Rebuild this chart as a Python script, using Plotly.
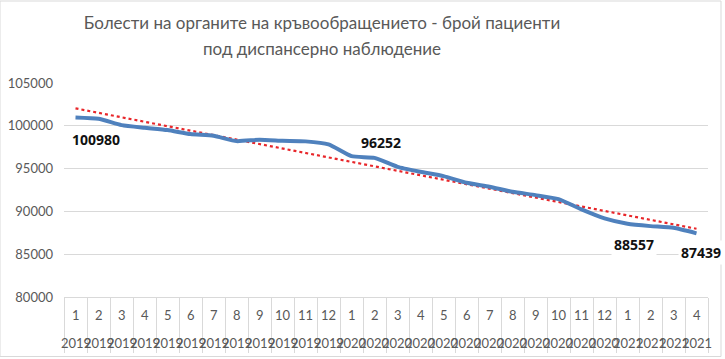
import numpy as np
import plotly.graph_objects as go

months = [1, 2, 3, 4, 5, 6, 7, 8, 9, 10, 11, 12,
          1, 2, 3, 4, 5, 6, 7, 8, 9, 10, 11, 12,
          1, 2, 3, 4]
years = [2019] * 12 + [2020] * 12 + [2021] * 4
values = [100980, 100818, 100080, 99770, 99500, 99030, 98830, 98210, 98370, 98250,
          98180, 97830, 96450, 96252, 95210, 94630, 94120, 93340, 92880, 92290,
          91900, 91440, 90230, 89180, 88557, 88280, 88080, 87439]
labelled = {0: (20, -22), 13: (6, 15), 24: (6, -21), 27: (4, -19)}

title_line1 = "Болести на органите на кръвообращението - брой пациенти"
title_line2 = "под диспансерно наблюдение"
y_ticks = [80000, 85000, 90000, 95000, 100000, 105000]

cats = [f"{m}-{y}" for m, y in zip(months, years)]
idx = np.arange(len(values))
slope, intercept = np.polyfit(idx, values, 1)
trend = slope * idx + intercept

fig = go.Figure()
fig.add_trace(go.Scatter(x=cats, y=trend, mode="lines",
                         line=dict(color="#E8262A", width=2.2, dash="dot"),
                         hoverinfo="skip", showlegend=False))
fig.add_trace(go.Scatter(x=cats, y=values, mode="lines",
                         line=dict(color="#4F81BD", width=4, shape="spline", smoothing=0.5),
                         showlegend=False))

annotations = []
for i, (dx, dy) in labelled.items():
    annotations.append(dict(x=cats[i], y=values[i], xref="x", yref="y",
                            text=f"<b>{values[i]}</b>", showarrow=False,
                            xshift=dx, yshift=dy, bgcolor="white", borderpad=2,
                            font=dict(family="Open Sans", size=14, color="#111111")))
for c, m, y in zip(cats, months, years):
    annotations.append(dict(x=c, y=0, xref="x", yref="paper", text=str(m),
                            showarrow=False, yanchor="middle", yshift=-18,
                            font=dict(family="Lato", size=13, color="#595959")))
    annotations.append(dict(x=c, y=0, xref="x", yref="paper", text=str(y),
                            showarrow=False, yanchor="middle", yshift=-46,
                            font=dict(family="Lato", size=13, color="#595959")))
annotations.append(dict(x=(322 - 64) / 644, y=1 + (83 - 48) / 214, xref="paper", yref="paper",
                        text=title_line2, showarrow=False, xanchor="center", yanchor="middle",
                        font=dict(family="Lato", size=17, color="#595959")))

fig.update_layout(
    width=725, height=359,
    margin=dict(l=64, r=17, t=83, b=62, autoexpand=False),
    paper_bgcolor="white", plot_bgcolor="white",
    title=dict(text=title_line1, x=322 / 725, xanchor="center",
               yref="container", y=1 - 23 / 359, yanchor="middle",
               font=dict(family="Lato", size=17, color="#595959")),
    xaxis=dict(type="category", range=[-0.5, len(cats) - 0.5],
               showticklabels=False, showgrid=False, automargin=False,
               showline=True, linecolor="#D9D9D9", linewidth=1,
               ticks="outside", tickson="boundaries", ticklen=55,
               tickcolor="#D9D9D9", tickwidth=1, zeroline=False),
    yaxis=dict(range=[80000, 105000], tickvals=y_ticks, tickformat="d", showgrid=True,
               gridcolor="#D9D9D9", gridwidth=1, zeroline=False, showline=False,
               ticklabelstandoff=10, automargin=False,
               tickfont=dict(family="Lato", size=13, color="#595959")),
    annotations=annotations,
    shapes=[dict(type="rect", xref="paper", yref="paper",
                 x0=-64 / 644, x1=(721 - 64) / 644, y0=-(356.5 - 297) / 214, y1=1 + 82 / 214,
                 line=dict(color="#D9D9D9", width=1), layer="below")],
)

fig.write_html("out.html", config={"displayModeBar": False},
               post_script="document.body.style.margin='0';document.body.style.padding='0';"
                           "document.body.style.overflow='hidden';")
